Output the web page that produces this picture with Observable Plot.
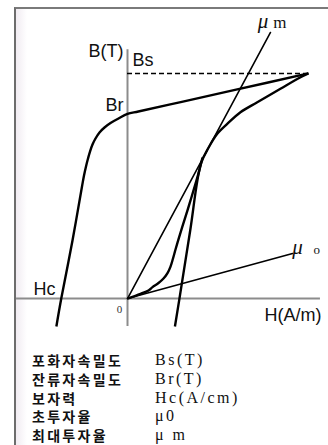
<!DOCTYPE html>
<html>
<head>
<meta charset="utf-8">
<script src="https://cdn.jsdelivr.net/npm/d3@7"></script>
<script src="https://cdn.jsdelivr.net/npm/@observablehq/plot@0.6"></script>
<style>
  html, body { margin: 0; padding: 0; background: #fff; }
  body { width: 328px; height: 445px; position: relative; overflow: hidden; }
  #frame {
    position: absolute; left: 14px; top: 7px; right: 0; bottom: 0;
    border-left: 2px solid #6c6c6c; border-top: 2px solid #7a7a7a;
    background: linear-gradient(to right, #f1ecf2 0px, #ffffff 11px);
  }
  #chart { position: absolute; left: 0; top: 0; }
  #legend {
    position: absolute; left: 32px; top: 351px;
  }
  #legend .row { height: 18.8px; line-height: 18.8px; white-space: nowrap; display: flex; }
  #legend .name {
    width: 123px; font-family: "Noto Sans CJK KR", sans-serif; font-size: 14px;
    font-weight: 700; letter-spacing: 2.3px; color: #111;
  }
  #legend .sym {
    font-family: "Liberation Serif", serif; font-size: 16px; letter-spacing: 2.5px; color: #111;
  }
</style>
</head>
<body>
<div id="frame"></div>
<div id="chart"></div>
<div id="legend"></div>
<script>
// Characteristic points of the B–H loop (H in arbitrary field units, B in units of Bs)
const Hs = 10;      // field at saturation
const Bs = 1.0;     // saturation flux density
const Br = 0.82;    // remanence
const Hc = -3.66;   // coercive field

// Descending branch: saturation -> remanence -> coercivity
const upperBranch = [
  [Hs, Bs], [6, 0.928], [3, 0.874], [0.6, 0.831], [0, Br],
  [-0.497, 0.8], [-0.939, 0.78], [-1.271, 0.76], [-1.547, 0.738],
  [-1.768, 0.711], [-1.934, 0.684], [-2.072, 0.653], [-2.182, 0.622],
  [-2.293, 0.587], [-2.403, 0.547], [-2.514, 0.498], [-3.039, 0.258],
  [Hc, 0], [-3.93, -0.124]
];

// Ascending branch back up to saturation
const lowerBranch = [
  [2.62, -0.124], [2.87, 0], [3.46, 0.3], [4.06, 0.6], [4.49, 0.672],
  [4.96, 0.732], [5.51, 0.776], [6.24, 0.828], [7.17, 0.872],
  [8.45, 0.932], [9.56, 0.983], [Hs, Bs]
];

// Initial magnetisation curve from the demagnetised state
const initialCurve = [
  [0, 0], [0.718, 0.021], [1.16, 0.036], [1.381, 0.051], [1.713, 0.069],
  [1.989, 0.089], [2.21, 0.113], [2.376, 0.142], [2.514, 0.178],
  [2.652, 0.218], [2.845, 0.271], [3.022, 0.317], [3.481, 0.436],
  [3.923, 0.556], [4.144, 0.627]
];

// Permeability lines through the origin
const muMaxLine = [[0, 0], [7.9, 1.182]];
const muInitLine = [[0, 0], [9.12, 0.2]];

// Axis extents
const hAxis = {min: -6.13, max: 10.66};
const bAxis = {min: -0.124, max: 1.105};

// Axis annotations
const labelsEnd = [
  {text: "B(T)", H: -0.22, B: 1.071},
  {text: "Br", H: -0.22, B: 0.831},
  {text: "H(A/m)", H: 10.72, B: -0.098}
];
const labelsStart = [
  {text: "Bs", H: 0.28, B: 1.031},
  {text: "Hc", H: -5.19, B: 0.018}
];
const originLabel = [{text: "0", H: -0.44, B: -0.062}];
const muSymbols = [
  {text: "μ", H: 7.2, B: 1.2},
  {text: "μ", H: 9.1, B: 0.196}
];
const muSuffixes = [
  {text: "m", H: 8.05, B: 1.2, size: 17},
  {text: "o", H: 10.28, B: 0.196, size: 13}
];

// Table of magnetic quantities
const quantityNames = ["포화자속밀도", "잔류자속밀도", "보자력", "초투자율", "최대투자율"];
const quantitySymbols = ["Bs(T)", "Br(T)", "Hc(A/cm)", "μ0", "μ m"];

const lineStyle = {stroke: "#000", strokeWidth: 2.4, curve: "catmull-rom", strokeLinejoin: "round", strokeLinecap: "butt"};
const muStyle = {stroke: "#000", strokeWidth: 1.6};
const axisColor = "#8c8c8c";

const chart = Plot.plot({
  width: 328,
  height: 335,
  margin: 0,
  style: {background: "transparent", overflow: "visible"},
  x: {domain: [-7.017, 11.105], axis: null},
  y: {domain: [-0.164, 1.324], axis: null},
  marks: [
    Plot.ruleX([0], {y1: bAxis.min, y2: bAxis.max, stroke: axisColor, strokeWidth: 2}),
    Plot.ruleY([0], {x1: hAxis.min, x2: hAxis.max, stroke: axisColor, strokeWidth: 2}),
    Plot.ruleY([Bs], {x1: 0, x2: Hs, stroke: "#000", strokeWidth: 1.6, strokeDasharray: "5,3"}),
    Plot.line(muMaxLine, muStyle),
    Plot.line(muInitLine, muStyle),
    Plot.line(initialCurve, lineStyle),
    Plot.line(upperBranch, lineStyle),
    Plot.line(lowerBranch, lineStyle),
    Plot.text(labelsEnd, {x: "H", y: "B", text: "text", textAnchor: "end", lineAnchor: "bottom",
      fontSize: 18, fontFamily: "Liberation Sans, Arial, sans-serif", fill: "#111"}),
    Plot.text(labelsStart, {x: "H", y: "B", text: "text", textAnchor: "start", lineAnchor: "bottom",
      fontSize: 18, fontFamily: "Liberation Sans, Arial, sans-serif", fill: "#111"}),
    Plot.text(originLabel, {x: "H", y: "B", text: "text", textAnchor: "middle", lineAnchor: "bottom",
      fontSize: 11, fontFamily: "Liberation Serif, serif", fill: "#333"}),
    Plot.text(muSymbols, {x: "H", y: "B", text: "text", textAnchor: "start", lineAnchor: "bottom",
      fontSize: 21, fontStyle: "italic", fontFamily: "Liberation Serif, serif", fill: "#111"}),
    Plot.text(muSuffixes, {x: "H", y: "B", text: "text", textAnchor: "start", lineAnchor: "bottom",
      fontSize: (d) => d.size, fontFamily: "Liberation Serif, serif", fill: "#111"})
  ]
});
document.getElementById("chart").appendChild(chart);

const legend = d3.select("#legend");
quantityNames.forEach((name, i) => {
  const row = legend.append("div").attr("class", "row");
  row.append("span").attr("class", "name").text(name);
  row.append("span").attr("class", "sym").text(quantitySymbols[i]);
});
</script>
</body>
</html>
